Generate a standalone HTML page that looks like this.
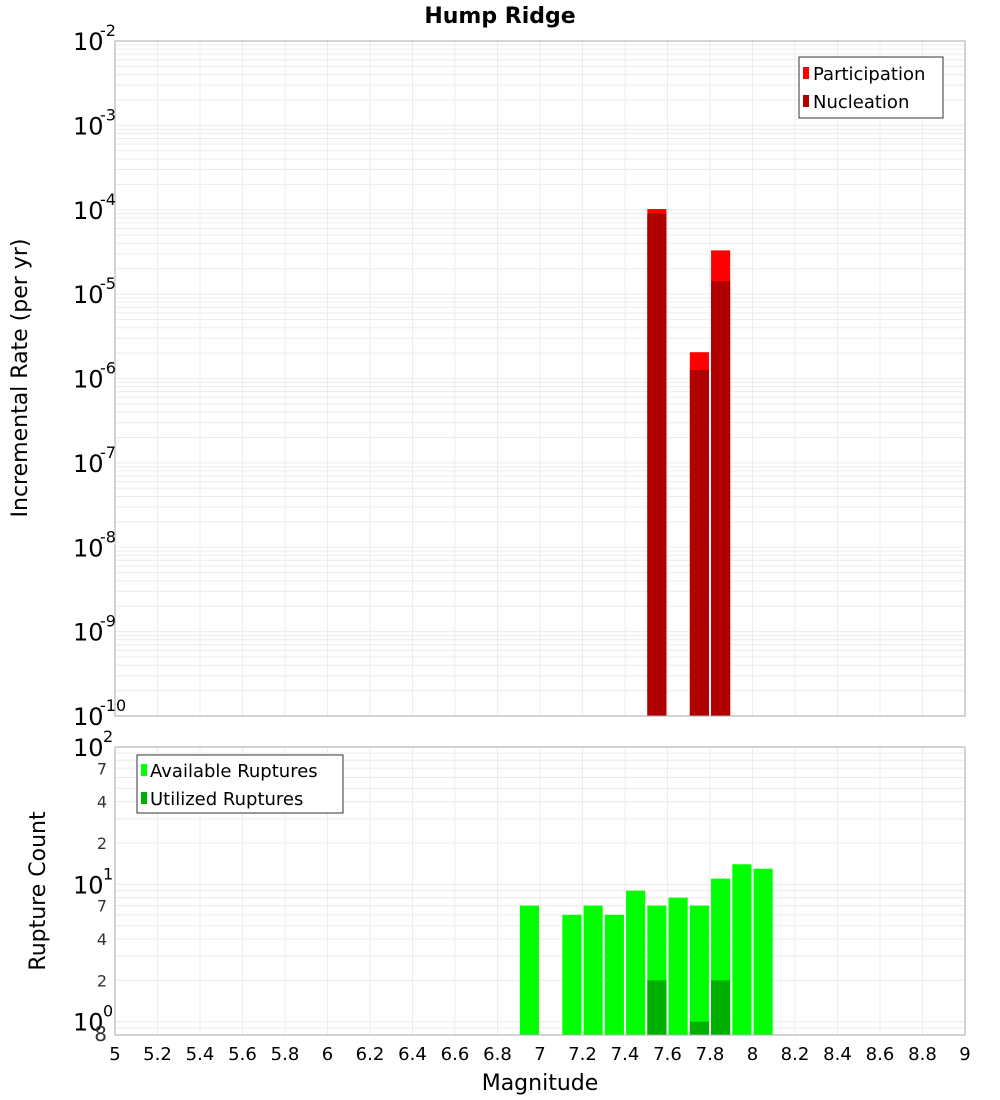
<!DOCTYPE html>
<html><head><meta charset="utf-8"><style>
body{margin:0;background:#fff;font-family:"Liberation Sans","DejaVu Sans",sans-serif}
svg{display:block}
</style></head><body>
<svg id="c" width="1000" height="1100" xmlns="http://www.w3.org/2000/svg" font-family="DejaVu Sans, Liberation Sans, sans-serif"></svg>
<script>
const mags=[7.55,7.75,7.85];
const participation=[1.02e-4,2.05e-6,3.3e-5];
const nucleation=[9.0e-5,1.26e-6,1.43e-5];
const countMags=[6.95,7.15,7.25,7.35,7.45,7.55,7.65,7.75,7.85,7.95,8.05];
const available=[7,6,7,6,9,7,8,7,11,14,13];
const utilMags=[7.55,7.75,7.85];
const utilized=[2,1,2];
const xTicks=["5","5.2","5.4","5.6","5.8","6","6.2","6.4","6.6","6.8","7","7.2","7.4","7.6","7.8","8","8.2","8.4","8.6","8.8","9"];

const NS="http://www.w3.org/2000/svg",svg=document.getElementById('c');
function el(t,a,txt){const e=document.createElementNS(NS,t);for(const k in a)e.setAttribute(k,a[k]);if(txt!=null)e.textContent=txt;svg.appendChild(e);return e;}
const L=115,R=965,T1=41,B1=716,T2=747,B2=1035;
const x=m=>L+(m-5)/4*(R-L);
const y1=v=>T1+(-2-Math.log10(v))*(B1-T1)/8;
const lmin=Math.log10(0.8),lmax=2;
const y2=v=>B2-(Math.log10(v)-lmin)/(lmax-lmin)*(B2-T2);
const bw=(x(5.1)-x(5))*0.9;

// grids
for(let d=-10;d<-2;d++)for(let k=1;k<10;k++){const yy=y1(k*Math.pow(10,d));
 const g=el('line',{x1:L,x2:R,y1:yy,y2:yy,stroke:'#ececec','stroke-width':1});}
for(let d=-1;d<2;d++)for(let k=1;k<10;k++){const v=k*Math.pow(10,d);if(v<0.8||v>100)continue;const yy=y2(v);
 const g=el('line',{x1:L,x2:R,y1:yy,y2:yy,stroke:'#ececec','stroke-width':1});}
xTicks.forEach(t=>{const xx=x(+t);
 [[T1,B1],[T2,B2]].forEach(([a,b])=>{const g=el('line',{x1:xx,x2:xx,y1:a,y2:b,stroke:'#ececec','stroke-width':1});});
 const tl=el('text',{x:xx,y:1060,'font-size':18,'text-anchor':'middle',fill:'#000'},t);
 });

// top bars
mags.forEach((m,i)=>{
 const p=el('rect',{x:x(m)-bw/2,y:y1(participation[i]),width:bw,height:B1-y1(participation[i]),fill:'#ff0000'});
 
 const n=el('rect',{x:x(m)-bw/2,y:y1(nucleation[i]),width:bw,height:B1-y1(nucleation[i]),fill:'#b00000'});
 
});
// bottom bars
countMags.forEach((m,i)=>{
 const r=el('rect',{x:x(m)-bw/2,y:y2(available[i]),width:bw,height:B2-y2(available[i]),fill:'#00ff00'});
 
});
utilMags.forEach((m,i)=>{
 const r=el('rect',{x:x(m)-bw/2,y:y2(utilized[i]),width:bw,height:B2-y2(utilized[i]),fill:'#00b000'});
 
});

// frames
const f1=el('rect',{x:L,y:T1,width:R-L,height:B1-T1,fill:'none',stroke:'#aaa'});
const f2=el('rect',{x:L,y:T2,width:R-L,height:B2-T2,fill:'none',stroke:'#aaa'});

// top y labels
for(let d=-10;d<=-2;d++){const yy=y1(Math.pow(10,d));
 const t=el('text',{x:73,y:yy+9,'font-size':24,fill:'#000'},'10');
 const s=el('text',{x:100,y:yy-5,'font-size':16,fill:'#000'},String(d));}
// bottom y labels
[[100,'10','2'],[10,'10','1'],[1,'10','0']].forEach(([v,b,e])=>{const yy=y2(v);
 const t=el('text',{x:73,y:yy+9,'font-size':24,fill:'#000'},b);
 const s=el('text',{x:103,y:yy-5,'font-size':16,fill:'#000'},e);});
[70,40,20,7,4,2,0.8].forEach(v=>{const yy=y2(v);const lab=v==0.8?'8':String(v).replace(/0$/,'');
 const t=el('text',{x:107,y:yy+6,'font-size':v==0.8?20:16,'text-anchor':'end',fill:'#333'},lab);});

// titles
const ti=el('text',{x:500,y:23,'font-size':22,'font-weight':'bold','text-anchor':'middle'},'Hump Ridge');
const xt=el('text',{x:540,y:1090,'font-size':22,'text-anchor':'middle'},'Magnitude');
const yt=el('text',{x:0,y:0,'font-size':22,'text-anchor':'middle',transform:'translate(27,378) rotate(-90)'},'Incremental Rate (per yr)');
const yt2=el('text',{x:0,y:0,'font-size':22,'text-anchor':'middle',transform:'translate(45,891) rotate(-90)'},'Rupture Count');

// legends
const lg1=el('rect',{x:799,y:57,width:144,height:61,fill:'#fff',stroke:'#333'});
[['#ff0000','Participation',73],['#b00000','Nucleation',101]].forEach(([c,t,yy])=>{
 const s=el('rect',{x:803,y:yy-6,width:6,height:12,fill:c});
 const tx=el('text',{x:813,y:yy+7,'font-size':18},t);});
const lg2=el('rect',{x:137,y:755,width:206,height:58,fill:'#fff',stroke:'#333'});
[['#00ff00','Available Ruptures',770],['#00b000','Utilized Ruptures',798]].forEach(([c,t,yy])=>{
 const s=el('rect',{x:141,y:yy-6,width:6,height:12,fill:c});
 const tx=el('text',{x:150,y:yy+7,'font-size':18},t);});
</script>
</body></html>
